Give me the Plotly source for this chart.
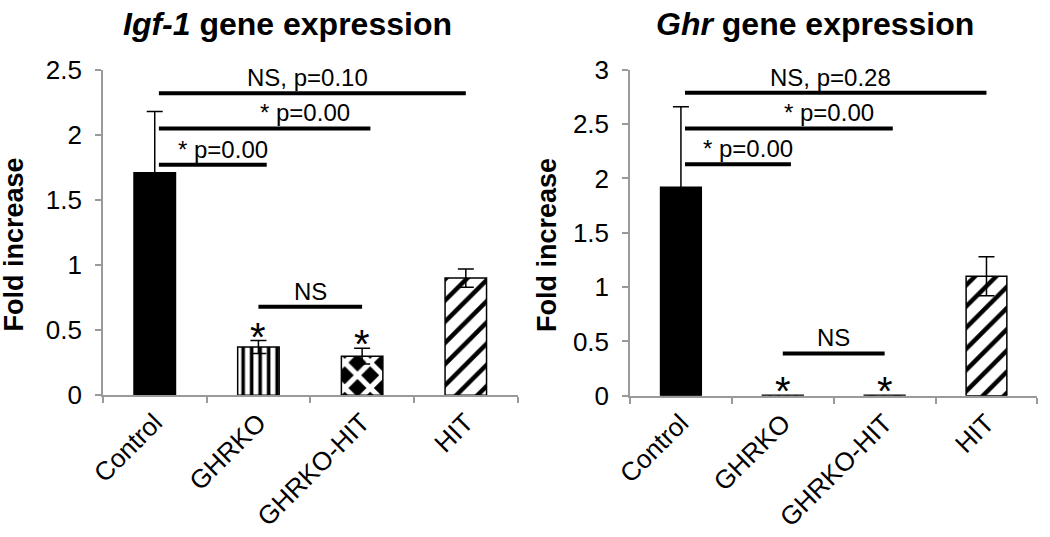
import plotly.graph_objects as go

categories = ["Control", "GHRKO", "GHRKO-HIT", "HIT"]

igf1_values = [1.71, 0.37, 0.30, 0.90]
igf1_errors = [0.47, 0.05, 0.06, 0.07]

ghr_values = [1.92, 0.005, 0.005, 1.10]
ghr_errors = [0.74, 0.0, 0.0, 0.18]

igf1_ticks = [0, 0.5, 1, 1.5, 2, 2.5]
ghr_ticks = [0, 0.5, 1, 1.5, 2, 2.5, 3]

# comparisons: (from, to, label)
igf1_comparisons = [("Control", "HIT", "NS, p=0.10"),
                    ("Control", "GHRKO-HIT", "* p=0.00"),
                    ("Control", "GHRKO", "* p=0.00"),
                    ("GHRKO", "GHRKO-HIT", "NS")]
igf1_levels = [2.32, 2.05, 1.77, 0.68]

ghr_comparisons = [("Control", "HIT", "NS, p=0.28"),
                   ("Control", "GHRKO-HIT", "* p=0.00"),
                   ("Control", "GHRKO", "* p=0.00"),
                   ("GHRKO", "GHRKO-HIT", "NS")]
ghr_levels = [2.79, 2.46, 2.13, 0.39]

star_groups = ["GHRKO", "GHRKO-HIT"]

FONT = "Liberation Sans, Arial, sans-serif"

patterns = [
    dict(shape=""),
    dict(shape="|", size=8.5, solidity=0.42, fgcolor="black", bgcolor="white", fgopacity=1),
    dict(shape="x", size=18, solidity=0.5, fgcolor="white", bgcolor="black", fgopacity=1),
    dict(shape="/", size=15, solidity=0.3, fgcolor="black", bgcolor="white", fgopacity=1),
]
colors = ["black", "white", "black", "white"]

fig = go.Figure()


def add_panel(values, errors, xa, ya):
    for i, c in enumerate(categories):
        fig.add_trace(go.Bar(
            x=[c], y=[values[i]],
            xaxis=xa, yaxis=ya,
            marker=dict(color=colors[i], pattern=patterns[i],
                        line=dict(color="black", width=1.5)),
            error_y=dict(type="data", array=[errors[i]], visible=errors[i] > 0,
                         color="black", thickness=1.5, width=8),
            showlegend=False, width=0.4,
        ))


add_panel(igf1_values, igf1_errors, "x", "y")
add_panel(ghr_values, ghr_errors, "x2", "y2")

cat_index = {c: i for i, c in enumerate(categories)}


def add_brackets(comps, levels, xref, yref):
    for (a, b, label), lev in zip(comps, levels):
        x0 = cat_index[a]
        x1 = cat_index[b]
        if a == "Control":
            x0 += 0.04
            if b != "HIT":
                x1 += 0.08
        fig.add_shape(type="line", xref=xref, yref=yref, x0=x0, x1=x1, y0=lev, y1=lev,
                      line=dict(color="black", width=4))
        if label.startswith("NS, "):
            xm = 1.47
        elif label == "NS":
            xm = (x0 + x1) / 2
        elif b == "GHRKO":
            xm = 0.66
        else:
            xm = 1.45
        fig.add_annotation(x=xm, y=lev, xref=xref, yref=yref, text=label,
                           showarrow=False, xanchor="center", yanchor="bottom", yshift=0,
                           font=dict(family=FONT, size=24, color="black"))


add_brackets(igf1_comparisons, igf1_levels, "x", "y")
add_brackets(ghr_comparisons, ghr_levels, "x2", "y2")

for g in star_groups:
    i = cat_index[g]
    fig.add_annotation(x=i, y=igf1_values[i] + igf1_errors[i], xref="x", yref="y", text="*",
                       showarrow=False, xanchor="center", yanchor="bottom", yshift=-20,
                       font=dict(family=FONT, size=40, color="black"))
    fig.add_annotation(x=i, y=ghr_values[i] + ghr_errors[i], xref="x2", yref="y2", text="*",
                       showarrow=False, xanchor="center", yanchor="bottom", yshift=-20,
                       font=dict(family=FONT, size=40, color="black"))

# titles
fig.add_annotation(x=0.274, y=0.955, xref="paper", yref="paper", showarrow=False,
                   xanchor="center", yanchor="middle",
                   text="<b><i>Igf-1</i> gene expression</b>",
                   font=dict(family=FONT, size=32, color="black"))
fig.add_annotation(x=0.776, y=0.955, xref="paper", yref="paper", showarrow=False,
                   xanchor="center", yanchor="middle",
                   text="<b><i>Ghr</i> gene expression</b>",
                   font=dict(family=FONT, size=32, color="black"))
fig.add_annotation(x=0.013, y=0.544, xref="paper", yref="paper", showarrow=False,
                   xanchor="center", yanchor="middle",
                   text="<b>Fold increase</b>", textangle=-90,
                   font=dict(family=FONT, size=27, color="black"))
fig.add_annotation(x=0.521, y=0.544, xref="paper", yref="paper", showarrow=False,
                   xanchor="center", yanchor="middle",
                   text="<b>Fold increase</b>", textangle=-90,
                   font=dict(family=FONT, size=27, color="black"))

xcommon = dict(type="category", categoryorder="array", categoryarray=categories,
               showline=True, linecolor="#9a9a9a", linewidth=1.5, ticks="outside",
               tickson="boundaries", ticklen=6, tickcolor="#9a9a9a", tickwidth=1.5,
               tickangle=-45, showgrid=False, zeroline=False, automargin=False,
               tickfont=dict(family=FONT, size=26, color="black"))
ycommon = dict(showline=True, linecolor="#9a9a9a", linewidth=1.5, ticks="outside",
               ticklen=6, tickcolor="#9a9a9a", tickwidth=1.5, showgrid=False,
               zeroline=False, automargin=False,
               tickfont=dict(family=FONT, size=26, color="black"),
               ticklabelstandoff=8)

fig.update_layout(
    width=1050, height=537,
    margin=dict(l=0, r=0, t=0, b=0, autoexpand=False),
    paper_bgcolor="white", plot_bgcolor="white",
    bargap=0.6,
    xaxis=dict(domain=[0.098, 0.493], anchor="y", range=[-0.5, 3.5], **xcommon),
    yaxis=dict(domain=[0.264, 0.870], anchor="x", range=[0, 2.5],
               tickvals=igf1_ticks, ticktext=[str(t) for t in igf1_ticks], **ycommon),
    xaxis2=dict(domain=[0.600, 0.988], anchor="y2", range=[-0.5, 3.5], **xcommon),
    yaxis2=dict(domain=[0.263, 0.870], anchor="x2", range=[0, 3],
                tickvals=ghr_ticks, ticktext=[str(t) for t in ghr_ticks], **ycommon),
)

fig.write_html("out.html", config={"displayModeBar": False},
               post_script="document.body.style.margin='0';document.body.style.overflow='hidden';")
